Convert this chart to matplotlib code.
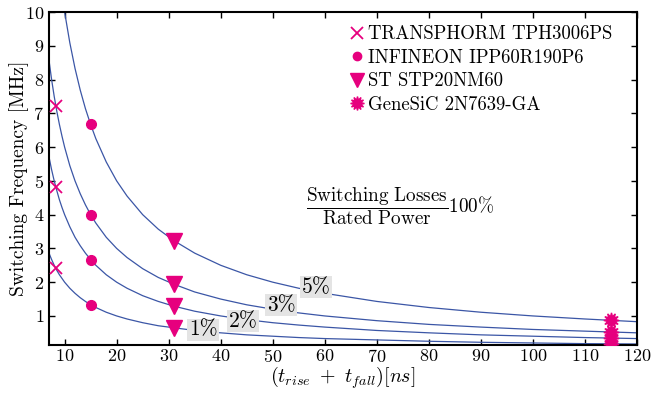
import matplotlib
matplotlib.use("Agg")
import matplotlib.pyplot as plt
from matplotlib.lines import Line2D

plt.rcParams.update({
    "font.family": "serif",
    "font.serif": ["cmr10", "DejaVu Serif"],
    "mathtext.fontset": "cm",
    "axes.formatter.use_mathtext": True,
    "font.size": 13,
})

# rise + fall time grid (ns) and switching frequency (MHz) along each loss curve
t_grid = [6, 6.5, 7, 7.5, 8, 8.5, 9, 9.5, 10, 11, 12, 13, 14, 15, 16, 18, 20, 22,
          25, 28, 31, 35, 40, 45, 50, 55, 60, 70, 80, 90, 100, 110, 120]
f_5pct = [16.67, 15.38, 14.29, 13.33, 12.5, 11.76, 11.11, 10.53, 10.0, 9.09, 8.33,
          7.69, 7.14, 6.67, 6.25, 5.56, 5.0, 4.55, 4.0, 3.57, 3.23, 2.86, 2.5, 2.22,
          2.0, 1.82, 1.67, 1.43, 1.25, 1.11, 1.0, 0.91, 0.83]
f_3pct = [10.0, 9.23, 8.57, 8.0, 7.5, 7.06, 6.67, 6.32, 6.0, 5.45, 5.0, 4.62, 4.29,
          4.0, 3.75, 3.33, 3.0, 2.73, 2.4, 2.14, 1.94, 1.71, 1.5, 1.33, 1.2, 1.09,
          1.0, 0.86, 0.75, 0.67, 0.6, 0.55, 0.5]
f_2pct = [6.67, 6.15, 5.71, 5.33, 5.0, 4.71, 4.44, 4.21, 4.0, 3.64, 3.33, 3.08, 2.86,
          2.67, 2.5, 2.22, 2.0, 1.82, 1.6, 1.43, 1.29, 1.14, 1.0, 0.89, 0.8, 0.73,
          0.67, 0.57, 0.5, 0.44, 0.4, 0.36, 0.33]
f_1pct = [3.33, 3.08, 2.86, 2.67, 2.5, 2.35, 2.22, 2.11, 2.0, 1.82, 1.67, 1.54, 1.43,
          1.33, 1.25, 1.11, 1.0, 0.91, 0.8, 0.71, 0.65, 0.57, 0.5, 0.44, 0.4, 0.36,
          0.33, 0.29, 0.25, 0.22, 0.2, 0.18, 0.17]
curves = [f_1pct, f_2pct, f_3pct, f_5pct]

# curve labels
pct_labels = ["1%", "2%", "3%", "5%"]
pct_x = [36.6, 44.3, 51.6, 58.3]
pct_y = [0.59, 0.85, 1.32, 1.86]

# devices
devices = ["TRANSPHORM TPH3006PS", "INFINEON IPP60R190P6", "ST STP20NM60", "GeneSiC 2N7639-GA"]
dev_t = [8.3, 15, 31, 115]
dev_f = [
    [7.23, 4.82, 2.41],
    [6.67, 4.0, 2.67, 1.33],
    [3.23, 1.94, 1.29, 0.65],
    [0.87, 0.52, 0.35, 0.17],
]

pink = "#e6007e"
blue = "#3b56a6"

fig = plt.figure(figsize=(6.56, 3.94), dpi=100)
ax = fig.add_axes([0.0747, 0.1244, 0.8963, 0.8451])

for f in curves:
    ax.plot(t_grid, f, color=blue, lw=0.9, zorder=2)

star = (12, 1, 0)
styles = [
    dict(marker="x", ms=9, mew=1.3),
    dict(marker="o", ms=7),
    dict(marker="v", ms=11),
    dict(marker=star, ms=11),
]
leg_styles = [
    dict(marker="x", ms=8, mew=1.3),
    dict(marker="o", ms=6),
    dict(marker="v", ms=10),
    dict(marker=star, ms=10),
]
handles = []
for name, t, fs, st, lst in zip(devices, dev_t, dev_f, styles, leg_styles):
    ax.plot([t] * len(fs), fs, ls="none", color=pink, zorder=4, **st)
    handles.append(Line2D([], [], ls="none", color=pink, label=name, **lst))

for lab, x, y in zip(pct_labels, pct_x, pct_y):
    ax.text(x, y, lab, fontsize=15.5, ha="center", va="center", zorder=3,
            bbox=dict(facecolor="#e4e4e4", edgecolor="none", pad=1.0))

ax.text(74.4, 4.25, r"$\dfrac{\mathrm{Switching\ Losses}}{\mathrm{Rated\ Power}}100\%$",
        fontsize=13.8, ha="center", va="center")

ax.legend(handles=handles, loc="upper right", frameon=False, fontsize=13.5,
          handletextpad=0.1, handlelength=1.0, labelspacing=0.3,
          borderaxespad=0.3, bbox_to_anchor=(0.98, 1.0))

ax.set_xlim(7, 120)
ax.set_ylim(0.14, 10)
ax.set_xticks(range(10, 121, 10))
ax.set_yticks(range(1, 11))
ax.tick_params(direction="in", top=True, right=True, length=4, width=1, labelsize=13)
ax.tick_params(axis="x", pad=2)
for s in ax.spines.values():
    s.set_linewidth(1.5)
ax.set_xlabel(r"$(t_{rise}\ +\ t_{fall})[ns]$", fontsize=14.4, labelpad=0)
ax.set_ylabel("Switching Frequency [MHz]", fontsize=14, labelpad=-3)

fig.savefig("out.png", dpi=100)
